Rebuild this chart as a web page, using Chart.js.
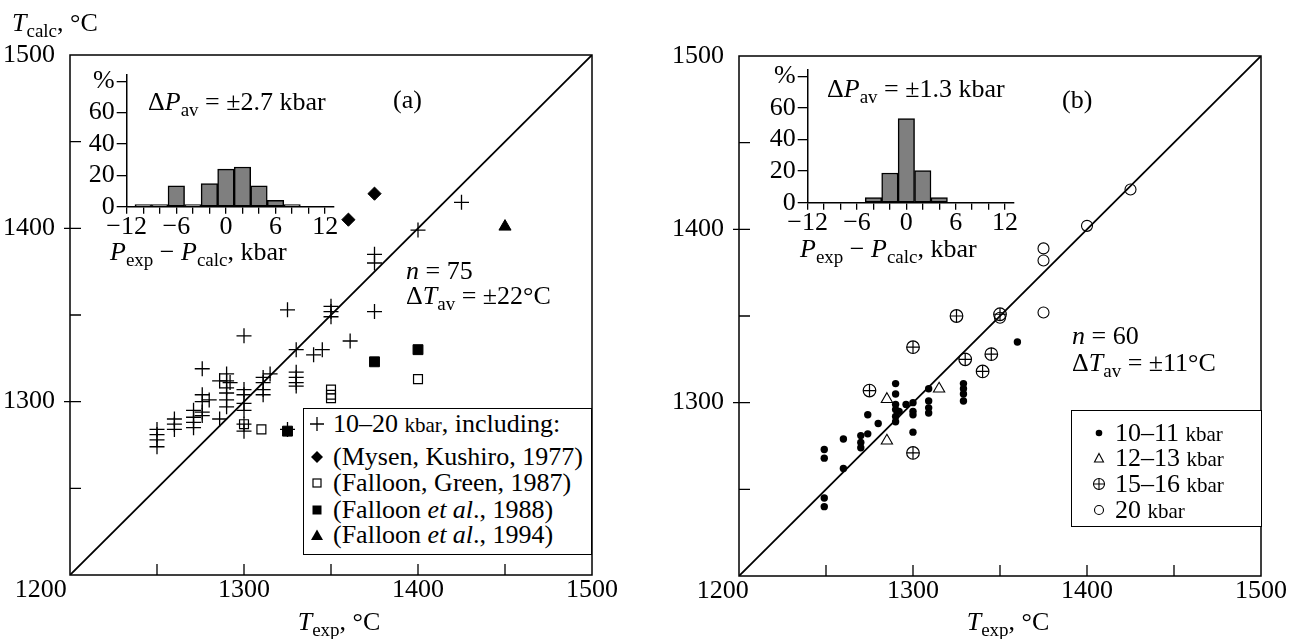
<!DOCTYPE html>
<html>
<head>
<meta charset="utf-8">
<script src="https://cdn.jsdelivr.net/npm/chart.js@4.4.1/dist/chart.umd.min.js"></script>
<style>
  body { margin: 0; background: #fff; }
  #page { position: relative; width: 1294px; height: 639px; overflow: hidden;
          font-family: 'Liberation Serif', 'DejaVu Serif', 'Times New Roman', Times, serif; color: #000; }
  canvas { position: absolute; }
  .txt { position: absolute; font-size: 26px; line-height: 26px; white-space: nowrap; }
  .ctr { transform: translateX(-50%); }
  .sub { font-size: 19px; position: relative; top: 6px; }
  .kb { font-size: 21px; }
  .legend { position: absolute; box-sizing: border-box; border: 1.5px solid #000; background: #fff;
            font-size: 26px; }
  .lrow { position: absolute; left: 0; width: 100%; height: 26px; }
  .lrow > svg { position: absolute; top: 5px; }
  .lrow > span { position: absolute; top: 0; line-height: 26px; white-space: nowrap; }
</style>
</head>
<body>
<div id="page">
  <canvas id="mainA" width="647" height="639" style="left:0;top:0"></canvas>
  <canvas id="mainB" width="647" height="639" style="left:647px;top:0"></canvas>
  <canvas id="histA" width="310" height="190" style="left:40px;top:60px"></canvas>
  <canvas id="histB" width="310" height="190" style="left:720px;top:55px"></canvas>

  <div class="txt" style="left:12px;top:10px"><i>T</i><span class="sub">calc</span>, °C</div>
  <div class="txt ctr" style="left:339px;top:609px"><i>T</i><span class="sub">exp</span>, °C</div>
  <div class="txt ctr" style="left:1008px;top:609px"><i>T</i><span class="sub">exp</span>, °C</div>
  <div class="txt" style="left:393px;top:87px">(a)</div>
  <div class="txt" style="left:1062px;top:87px">(b)</div>
  <div class="txt" style="left:406px;top:258px"><i>n</i> = 75</div>
  <div class="txt" style="left:406px;top:283px">Δ<i>T</i><span class="sub">av</span> = ±22°C</div>
  <div class="txt" style="left:1072px;top:323px"><i>n</i> = 60</div>
  <div class="txt" style="left:1072px;top:350px">Δ<i>T</i><span class="sub">av</span> = ±11°C</div>
  <div class="txt" style="left:148px;top:89px">Δ<i>P</i><span class="sub">av</span> = ±2.7 kbar</div>
  <div class="txt" style="left:110px;top:239px"><i>P</i><span class="sub">exp</span> − <i>P</i><span class="sub">calc</span>, kbar</div>
  <div class="txt" style="left:827px;top:76px">Δ<i>P</i><span class="sub">av</span> = ±1.3 kbar</div>
  <div class="txt" style="left:800px;top:236px"><i>P</i><span class="sub">exp</span> − <i>P</i><span class="sub">calc</span>, kbar</div>

  <div class="legend" id="legA" style="left:303px;top:408px;width:289px;height:147px"></div>
  <div class="legend" id="legB" style="left:1071px;top:410px;width:191px;height:117px"></div>
</div>
<script>
// ---- panel (a): [T_exp, T_calc] in °C
const plusA = [
  [1250,1284],[1250,1281],[1250,1278],[1250,1274],
  [1260,1290],[1260,1287],[1260,1284],
  [1271,1295],[1271,1291],[1271,1288],[1271,1285],
  [1276,1319],[1276,1304],[1276,1300],[1276,1294],[1276,1292],
  [1280,1301],[1286,1290],[1286,1312],
  [1290,1316],[1290,1312],[1290,1308],[1290,1305],[1290,1301],[1290,1297],
  [1292,1311],
  [1300,1338],[1300,1307],[1300,1304],[1300,1299],[1300,1295],[1300,1287],[1300,1283],
  [1311,1314],[1311,1311],[1311,1307],[1311,1304],
  [1315,1316],[1325,1353],[1325,1284],
  [1330,1330],[1330,1317],[1330,1314],[1330,1311],[1330,1309],
  [1340,1327],[1345,1330],
  [1350,1355],[1350,1352],[1350,1349],
  [1361,1335],
  [1375,1385],[1375,1380],[1375,1352],
  [1400,1399],[1425,1415]
];
const mysen = [[1360,1405],[1375,1420]];
const falloonGreen = [[1400,1313],[1350,1307],[1350,1304],[1350,1302],[1300,1287],[1310,1284]];
const falloon88 = [[1375,1323],[1400,1330],[1325,1283]];
const falloon94 = [[1450,1401]];

// ---- panel (b)
const kbar10 = [
  [1249,1273],[1249,1268],[1249,1245],[1249,1240],
  [1260,1279],[1260,1262],
  [1270,1281],[1270,1277],[1270,1274],
  [1274,1293],[1274,1282],[1280,1288],
  [1290,1311],[1290,1305],[1290,1299],[1290,1296],[1290,1292],[1290,1289],
  [1292,1295],[1296,1299],
  [1300,1300],[1300,1295],[1300,1293],[1300,1283],
  [1309,1308],[1309,1301],[1309,1297],[1309,1294],
  [1329,1311],[1329,1308],[1329,1305],[1329,1301],
  [1360,1335]
];
const kbar12 = [[1315,1308],[1285,1302],[1285,1278]];
const kbar15 = [[1325,1350],[1300,1332],[1275,1307],[1350,1351],[1330,1325],[1345,1328],[1340,1318],[1300,1271]];
const kbar20 = [[1350,1349],[1375,1352],[1375,1389],[1375,1382],[1400,1402],[1425,1423]];

const diagonal = [[1200,1200],[1500,1500]];
const mainTicks = [1200, 1300, 1400, 1500];
const frameTicks = [1250, 1300, 1350, 1400, 1450];

// ---- inset histograms: P_exp - P_calc (kbar), share in %
const binsA = [-10, -8, -6, -4, -2, 0, 2, 4, 6, 8];
const pctA  = [1.3, 1.3, 13.3, 1.3, 14.7, 24, 25.3, 13.3, 4, 1.3];
const binsB = [-4, -2, 0, 2, 4];
const pctB  = [3.3, 18.8, 53.3, 20.4, 3.3];
const insetXTicks = [-12,-10,-8,-6,-4,-2,0,2,4,6,8,10,12];
const insetXLabels = [-12, -6, 0, 6, 12];
const insetYTicks = [0,10,20,30,40,50,60,70,80];
const insetYLabels = [0, 20, 40, 60];

const legendA = ['10–20 <span class="kb">kbar</span>, including:', '(Mysen, Kushiro, 1977)',
                 '(Falloon, Green, 1987)', '(Falloon <i>et al</i>., 1988)', '(Falloon <i>et al</i>., 1994)'];
const legendB = ['10–11 <span class="kb">kbar</span>', '12–13 <span class="kb">kbar</span>',
                 '15–16 <span class="kb">kbar</span>', '20 <span class="kb">kbar</span>'];

const serif = "'Liberation Serif', 'DejaVu Serif', 'Times New Roman', Times, serif";
Chart.defaults.font.family = serif;
Chart.defaults.color = '#000';
const axisFont = { family: serif, size: 26, lineHeight: 1 };

function pts(list) { return list.map(([x, y]) => ({ x, y })); }

// box round the plot and short inward ticks
const framePlugin = {
  id: 'frame',
  afterDraw(chart) {
    const { ctx, chartArea: a, scales: { x, y } } = chart;
    ctx.save();
    ctx.strokeStyle = '#000';
    ctx.lineWidth = 1.5;
    ctx.strokeRect(a.left, a.top, a.right - a.left, a.bottom - a.top);
    ctx.lineWidth = 1.3;
    ctx.beginPath();
    frameTicks.forEach(v => {
      const px = x.getPixelForValue(v);
      ctx.moveTo(px, a.bottom); ctx.lineTo(px, a.bottom - 11);
      const py = y.getPixelForValue(v);
      ctx.moveTo(a.left, py); ctx.lineTo(a.left + 11, py);
      if (v % 100 === 0) { ctx.moveTo(a.left - 6, py); ctx.lineTo(a.left, py); }
    });
    ctx.stroke();
    ctx.restore();
  }
};

function mainOptions(pad, xHeight, firstLabel) {
  return {
    responsive: false, animation: false, events: [],
    layout: { padding: pad },
    plugins: { legend: { display: false }, tooltip: { enabled: false } },
    scales: {
      x: {
        type: 'linear', min: 1200, max: 1500,
        afterBuildTicks: s => { s.ticks = mainTicks.map(v => ({ value: v })); },
        afterFit: s => { s.height = xHeight; },
        grid: { display: false }, border: { display: false },
        ticks: { font: axisFont, color: '#000', padding: -6, maxRotation: 0, autoSkip: false,
                 callback: v => v === 1200 ? firstLabel : String(v) }
      },
      y: {
        type: 'linear', min: 1200, max: 1500,
        afterBuildTicks: s => { s.ticks = mainTicks.map(v => ({ value: v })); },
        afterFit: s => { s.width = 70; },
        grid: { display: false }, border: { display: false },
        ticks: { font: axisFont, color: '#000', padding: 7,
                 callback: v => v === 1200 ? '' : String(v) }
      }
    }
  };
}

const diagSet = () => ({ type: 'line', data: pts(diagonal), borderColor: '#000', borderWidth: 1.8,
                         pointRadius: 0, fill: false });

new Chart(document.getElementById('mainA'), {
  type: 'scatter',
  data: { datasets: [
    { data: pts(plusA), pointStyle: 'cross', pointRadius: 7.5, borderColor: '#000', borderWidth: 1.3 },
    { data: pts(mysen), pointStyle: 'rectRot', pointRadius: 6.6, backgroundColor: '#000', borderColor: '#000', borderWidth: 1 },
    { data: pts(falloonGreen), pointStyle: 'rect', pointRadius: 6.3, backgroundColor: 'rgba(0,0,0,0)', borderColor: '#000', borderWidth: 1.2 },
    { data: pts(falloon88), pointStyle: 'rect', pointRadius: 7, backgroundColor: '#000', borderColor: '#000', borderWidth: 1 },
    { data: pts(falloon94), pointStyle: 'triangle', pointRadius: 7, backgroundColor: '#000', borderColor: '#000', borderWidth: 1 },
    diagSet()
  ] },
  options: mainOptions({ left: 0, right: 55, top: 55, bottom: 0 }, 64, '1200' + ' '.repeat(9)),
  plugins: [framePlugin]
});

// 15-16 kbar: crossed circle = open circle + cross on the same points
new Chart(document.getElementById('mainB'), {
  type: 'scatter',
  data: { datasets: [
    { data: pts(kbar10), pointStyle: 'circle', pointRadius: 3.7, backgroundColor: '#000', borderColor: '#000', borderWidth: 0 },
    { data: pts(kbar12), pointStyle: 'triangle', pointRadius: 6.5, backgroundColor: 'rgba(0,0,0,0)', borderColor: '#000', borderWidth: 1.1 },
    { data: pts(kbar15), pointStyle: 'circle', pointRadius: 6.3, backgroundColor: 'rgba(0,0,0,0)', borderColor: '#000', borderWidth: 1.2 },
    { data: pts(kbar15), pointStyle: 'cross', pointRadius: 6.3, borderColor: '#000', borderWidth: 1.2 },
    { data: pts(kbar20), pointStyle: 'circle', pointRadius: 5.5, backgroundColor: 'rgba(0,0,0,0)', borderColor: '#000', borderWidth: 1.1 },
    diagSet()
  ] },
  options: mainOptions({ left: 22, right: 33, top: 56, bottom: 0 }, 63, '1200' + ' '.repeat(5)),
  plugins: [framePlugin]
});

function fmtSigned(v) { return v < 0 ? '−' + Math.abs(v) : String(v); }

function insetChart(id, bins, pct, yWidth, padTop, padRight, xHeight) {
  return new Chart(document.getElementById(id), {
    type: 'bar',
    data: { datasets: [{
      data: bins.map((b, i) => ({ x: b, y: pct[i] })),
      backgroundColor: '#7f7f7f', borderColor: '#000', borderWidth: 1.5, borderSkipped: false,
      categoryPercentage: 1, barPercentage: 1
    }] },
    options: {
      responsive: false, animation: false, events: [],
      layout: { padding: { left: 0, top: padTop, right: padRight, bottom: 0 } },
      plugins: { legend: { display: false }, tooltip: { enabled: false } },
      scales: {
        x: {
          type: 'linear', min: -12, max: 13, offset: false,
          afterBuildTicks: s => { s.ticks = insetXTicks.map(v => ({ value: v })); },
          afterFit: s => { s.height = xHeight; },
          grid: { offset: false, drawOnChartArea: false, drawTicks: true, tickLength: 7, color: '#000', lineWidth: 1.3 },
          border: { display: true, color: '#000', width: 1.5 },
          ticks: { font: axisFont, color: '#000', padding: 0, maxRotation: 0, autoSkip: false,
                   callback: v => insetXLabels.includes(v) ? fmtSigned(v) : '' }
        },
        y: {
          type: 'linear', min: 0, max: 84,
          afterBuildTicks: s => { s.ticks = insetYTicks.map(v => ({ value: v })); },
          afterFit: s => { s.width = yWidth; },
          grid: { drawOnChartArea: false, drawTicks: true, tickLength: 10, color: '#000', lineWidth: 1.3 },
          border: { display: true, color: '#000', width: 1.5 },
          ticks: { font: axisFont, color: '#000', padding: 2,
                   callback: v => v === 80 ? '%' : (insetYLabels.includes(v) ? String(v) : '') }
        }
      }
    }
  });
}

insetChart('histA', binsA, pctA, 86.7, 11.5, 16.6, 43.3);
insetChart('histB', binsB, pctB, 87.7, 13.3, 16.8, 42.3);

// ---- HTML legends
const S = '<svg width="16" height="16" style="left:{L}px">';
const marksA = [
  '<path d="M1 8H15M8 1V15" stroke="#000" stroke-width="1.3"/>',
  '<path d="M8 2L14 8L8 14L2 8Z" fill="#000"/>',
  '<rect x="4" y="4" width="8" height="8" fill="none" stroke="#000" stroke-width="1.2"/>',
  '<rect x="3.5" y="3.5" width="9" height="9" fill="#000"/>',
  '<path d="M8 2.5L14 13H2Z" fill="#000"/>'
];
const marksB = [
  '<circle cx="8" cy="8" r="3.3" fill="#000"/>',
  '<path d="M8 3.5L12.5 12H3.5Z" fill="none" stroke="#000" stroke-width="1.1"/>',
  '<circle cx="8" cy="8" r="5.5" fill="none" stroke="#000" stroke-width="1.1"/><path d="M2.5 8H13.5M8 2.5V13.5" stroke="#000" stroke-width="1.1"/>',
  '<circle cx="8" cy="8" r="4.5" fill="none" stroke="#000" stroke-width="1.1"/>'
];

function buildLegend(id, labels, marks, rows, markX, textX) {
  const el = document.getElementById(id);
  labels.forEach((lab, i) => {
    const row = document.createElement('div');
    row.className = 'lrow';
    row.style.top = (rows[i] - 13) + 'px';
    row.innerHTML = S.replace('{L}', markX - 8) + marks[i] + '</svg>' +
                    '<span style="left:' + textX + 'px">' + lab + '</span>';
    el.appendChild(row);
  });
}
buildLegend('legA', legendA, marksA, [15, 48, 74, 100.5, 126], 13, 29);
buildLegend('legB', legendB, marksB, [22, 47, 73, 99], 27, 43);
</script>
</body>
</html>
